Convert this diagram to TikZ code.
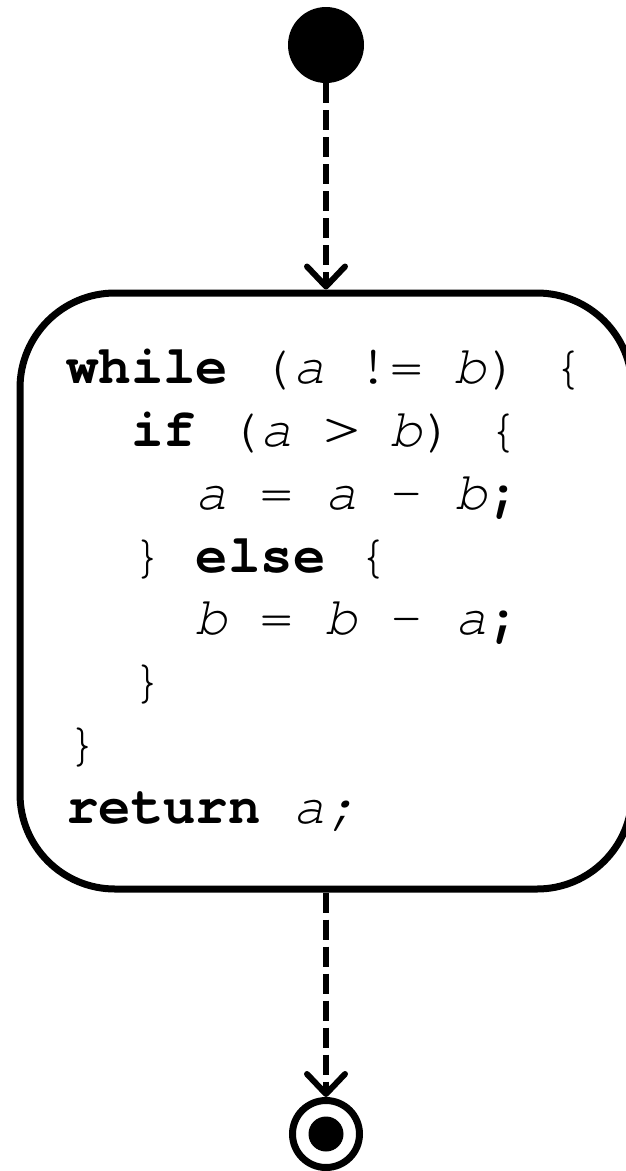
\documentclass[tikz,border=0pt]{standalone}
\usepackage{fontspec}
\IfFontExistsTF{texgyrecursor-regular.otf}{%
  \setmonofont{texgyrecursor}[Extension=.otf, UprightFont=*-regular,
    BoldFont=*-bold, ItalicFont=*-italic, BoldItalicFont=*-bolditalic]}{%
  \setmonofont{Liberation Mono}}
\usetikzlibrary{arrows.meta}
\newcommand{\widegt}{\makebox[0.6em][c]{\scalebox{1.45}[1.15]{>}}}
\begin{document}
\begin{tikzpicture}[x=1pt,y=-1pt,
  flow/.style={line width=6pt, dash pattern=on 20pt off 7pt,
    -{Straight Barb[length=20pt,width=38pt,round]}},
  code/.style={anchor=base west, inner sep=0pt, font=\fontsize{54}{63}\selectfont\ttfamily},
  statebox/.style={draw, line width=7pt, rounded corners=95pt, minimum width=612pt,
    minimum height=596pt, inner sep=0pt},
  initstate/.style={circle, fill=black, minimum size=76pt, inner sep=0pt},
  finalstate/.style={circle, draw, line width=7pt, minimum size=67pt, inner sep=0pt}]
\useasboundingbox (0,0) rectangle (625,1171);
\node[initstate] (init) at (326,45) {};
\node[statebox] (state) at (326,591) {};
\node[finalstate] (final) at (326,1134) {};
\fill (final.center) circle (17.5pt);
\node[code] (l1) at (66,383) {\textbf{while} (\textit{a} != \textit{b}) \{};
\node[code] (l2) at (130.8,446) {\textbf{if} (\textit{a} \widegt{} \textit{b}) \{};
\node[code] (l3) at (195.6,509) {\textit{a} = \textit{a} - \textit{b}\textbf{;}};
\node[code] (l4) at (130.8,572) {\} \textbf{else} \{};
\node[code] (l5) at (195.6,634.5) {\textit{b} = \textit{b} - \textit{a}\textbf{;}};
\node[code] (l6) at (130.8,697) {\}};
\node[code] (l7) at (66,760) {\}};
\node[code] (l8) at (66,823) {\textbf{return} \textit{a;}};
\draw[flow] (init) -- (state.north);
\draw[flow] (state.south) -- (final.north);
\end{tikzpicture}
\end{document}
